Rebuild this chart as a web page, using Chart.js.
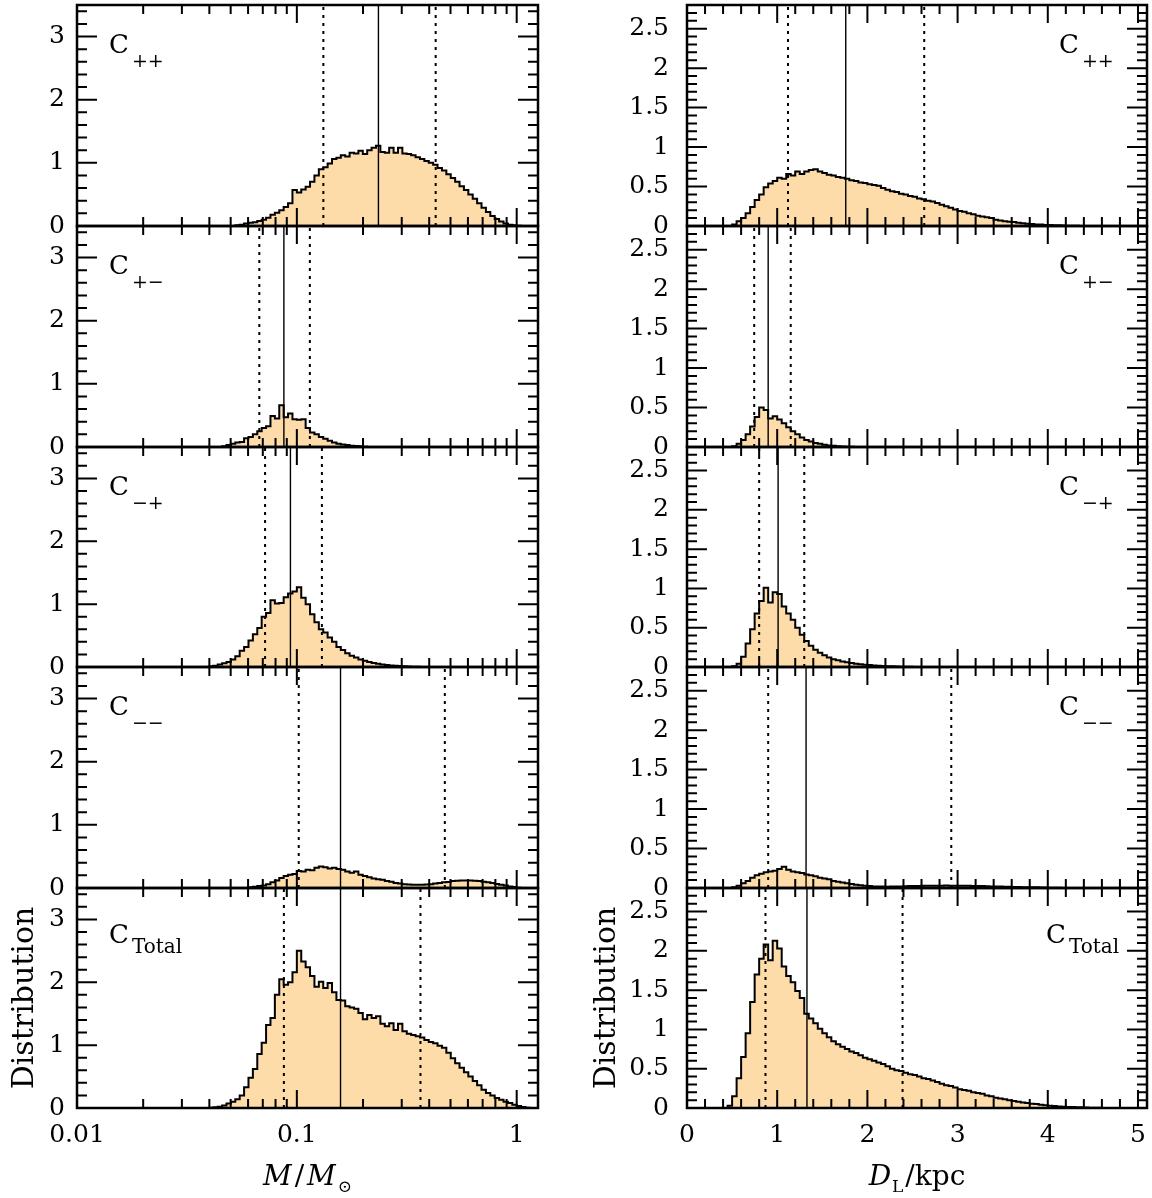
<!DOCTYPE html>
<html>
<head>
<meta charset="utf-8">
<script src="https://cdn.jsdelivr.net/npm/chart.js@4.4.1/dist/chart.umd.min.js"></script>
<style>
  html, body { margin: 0; padding: 0; background: #fff; }
  #wrap { position: relative; width: 1152px; height: 1198px; overflow: hidden; background: #fff; }
  #wrap canvas { position: absolute; top: 0; }
</style>
</head>
<body>
<div id="wrap"></div>
<script>
// histogram bins: left column in log10(M/Msun), right column in D_L (kpc)
const massLogStart = -1.42;
const massLogStep = 0.02;
const distStart = 0.40;
const distStep = 0.05;

// mass distributions, one value per bin
const massCpp = [
  0, 0, 0, 0, 0, 0, 0, 0.01, 0.02, 0.04,
  0.05, 0.06, 0.08, 0.10, 0.13, 0.18, 0.21, 0.25, 0.30, 0.36,
  0.57, 0.53, 0.58, 0.62, 0.70, 0.80, 0.90, 0.93, 0.99, 1.06,
  1.08, 1.12, 1.10, 1.16, 1.15, 1.19, 1.14, 1.20, 1.24, 1.27,
  1.17, 1.16, 1.24, 1.16, 1.24, 1.15, 1.14, 1.12, 1.09, 1.06,
  1.03, 1.00, 0.97, 0.92, 0.88, 0.82, 0.76, 0.70, 0.63, 0.57,
  0.50, 0.43, 0.36, 0.29, 0.22, 0.16, 0.11, 0.07, 0.04, 0.02,
  0.01, 0.005, 0, 0
];
const massCpm = [
  0, 0, 0, 0, 0.01, 0.03, 0.05, 0.07, 0.08, 0.14,
  0.16, 0.20, 0.25, 0.30, 0.33, 0.49, 0.45, 0.66, 0.47, 0.53,
  0.44, 0.43, 0.44, 0.30, 0.23, 0.20, 0.16, 0.13, 0.10, 0.07,
  0.05, 0.04, 0.03, 0.02, 0.015, 0.01, 0.005, 0, 0, 0,
  0, 0, 0, 0, 0, 0, 0, 0, 0, 0,
  0, 0, 0, 0, 0, 0, 0, 0, 0, 0,
  0, 0, 0, 0, 0, 0, 0, 0, 0, 0,
  0, 0, 0, 0
];
const massCmp = [
  0, 0.01, 0.02, 0.04, 0.06, 0.08, 0.12, 0.17, 0.26, 0.32,
  0.42, 0.52, 0.62, 0.80, 0.86, 1.06, 1.01, 1.02, 1.11, 1.17,
  1.20, 1.27, 1.10, 1.00, 0.84, 0.71, 0.60, 0.55, 0.47, 0.40,
  0.32, 0.27, 0.22, 0.18, 0.15, 0.12, 0.10, 0.08, 0.065, 0.05,
  0.04, 0.03, 0.025, 0.02, 0.015, 0.01, 0.007, 0.005, 0.003, 0,
  0, 0, 0, 0, 0, 0, 0, 0, 0, 0,
  0, 0, 0, 0, 0, 0, 0, 0, 0, 0,
  0, 0, 0, 0
];
const massCmm = [
  0, 0, 0, 0, 0, 0, 0, 0, 0, 0,
  0.01, 0.02, 0.03, 0.04, 0.06, 0.09, 0.12, 0.16, 0.19, 0.21,
  0.22, 0.27, 0.26, 0.29, 0.28, 0.32, 0.34, 0.33, 0.31, 0.32,
  0.30, 0.29, 0.26, 0.24, 0.26, 0.21, 0.19, 0.17, 0.15, 0.14,
  0.13, 0.11, 0.10, 0.08, 0.07, 0.06, 0.055, 0.05, 0.05, 0.05,
  0.055, 0.06, 0.07, 0.08, 0.09, 0.095, 0.11, 0.115, 0.12, 0.12,
  0.12, 0.115, 0.11, 0.10, 0.09, 0.08, 0.065, 0.05, 0.04, 0.025,
  0.015, 0.005, 0, 0
];
const massTotal = [
  0, 0.005, 0.01, 0.02, 0.04, 0.07, 0.10, 0.14, 0.20, 0.33,
  0.48, 0.62, 0.86, 1.04, 1.32, 1.43, 1.80, 2.05, 1.96, 2.00,
  2.16, 2.50, 2.33, 2.24, 2.10, 1.93, 2.01, 1.91, 1.99, 1.84,
  1.72, 1.71, 1.62, 1.60, 1.58, 1.51, 1.41, 1.48, 1.43, 1.46,
  1.34, 1.30, 1.35, 1.24, 1.34, 1.22, 1.18, 1.16, 1.14, 1.12,
  1.08, 1.05, 1.03, 0.99, 0.96, 0.88, 0.79, 0.71, 0.64, 0.57,
  0.50, 0.43, 0.36, 0.29, 0.24, 0.20, 0.16, 0.13, 0.10, 0.08,
  0.05, 0.03, 0.015, 0.005
];

// distance distributions, one value per bin
const distCpp = [
  0, 0, 0.02, 0.06, 0.10, 0.16, 0.24, 0.33, 0.40, 0.49,
  0.54, 0.57, 0.61, 0.60, 0.66, 0.64, 0.69, 0.66, 0.69, 0.71,
  0.72, 0.69, 0.67, 0.65, 0.64, 0.62, 0.61, 0.60, 0.58, 0.57,
  0.55, 0.545, 0.53, 0.52, 0.51, 0.48, 0.46, 0.44, 0.43, 0.41,
  0.40, 0.38, 0.37, 0.35, 0.34, 0.32, 0.31, 0.29, 0.27, 0.25,
  0.23, 0.21, 0.19, 0.18, 0.16, 0.15, 0.13, 0.12, 0.11, 0.10,
  0.08, 0.07, 0.06, 0.055, 0.05, 0.04, 0.035, 0.03, 0.025, 0.02,
  0.018, 0.014, 0.012, 0.01, 0.008, 0.006, 0.004, 0.003, 0.002, 0,
  0, 0, 0, 0
];
const distCpm = [
  0, 0, 0.01, 0.04, 0.09, 0.16, 0.26, 0.38, 0.50, 0.47,
  0.36, 0.39, 0.35, 0.30, 0.25, 0.20, 0.16, 0.12, 0.09, 0.07,
  0.05, 0.04, 0.03, 0.02, 0.015, 0.01, 0.007, 0.004, 0.002, 0,
  0, 0, 0, 0, 0, 0, 0, 0, 0, 0,
  0, 0, 0, 0, 0, 0, 0, 0, 0, 0,
  0, 0, 0, 0, 0, 0, 0, 0, 0, 0,
  0, 0, 0, 0, 0, 0, 0, 0, 0, 0,
  0, 0, 0, 0, 0, 0, 0, 0, 0, 0,
  0, 0, 0, 0
];
const distCmp = [
  0, 0, 0.01, 0.04, 0.13, 0.30, 0.48, 0.68, 0.84, 1.01,
  0.82, 0.95, 0.93, 0.77, 0.68, 0.60, 0.50, 0.41, 0.33, 0.27,
  0.22, 0.18, 0.15, 0.12, 0.10, 0.085, 0.07, 0.06, 0.05, 0.04,
  0.035, 0.03, 0.025, 0.02, 0.017, 0.013, 0.01, 0.008, 0.006, 0.004,
  0.003, 0.002, 0, 0, 0, 0, 0, 0, 0, 0,
  0, 0, 0, 0, 0, 0, 0, 0, 0, 0,
  0, 0, 0, 0, 0, 0, 0, 0, 0, 0,
  0, 0, 0, 0, 0, 0, 0, 0, 0, 0,
  0, 0, 0, 0
];
const distCmm = [
  0, 0, 0.01, 0.03, 0.06, 0.09, 0.13, 0.16, 0.18, 0.20,
  0.21, 0.22, 0.24, 0.27, 0.23, 0.21, 0.20, 0.19, 0.17, 0.16,
  0.15, 0.13, 0.12, 0.11, 0.09, 0.08, 0.07, 0.06, 0.05, 0.04,
  0.034, 0.03, 0.025, 0.02, 0.02, 0.018, 0.017, 0.018, 0.02, 0.02,
  0.022, 0.024, 0.025, 0.026, 0.028, 0.03, 0.03, 0.03, 0.03, 0.031,
  0.03, 0.03, 0.03, 0.029, 0.028, 0.026, 0.025, 0.024, 0.022, 0.02,
  0.02, 0.018, 0.017, 0.015, 0.014, 0.012, 0.011, 0.01, 0.009, 0.008,
  0.006, 0.005, 0.004, 0.003, 0.002, 0.001, 0, 0, 0, 0,
  0, 0, 0, 0
];
const distTotal = [
  0, 0.03, 0.15, 0.38, 0.65, 0.95, 1.35, 1.70, 1.90, 2.08,
  1.88, 2.13, 2.03, 1.80, 1.68, 1.60, 1.49, 1.40, 1.20, 1.14,
  1.08, 1.01, 0.95, 0.90, 0.85, 0.81, 0.78, 0.75, 0.72, 0.70,
  0.67, 0.64, 0.62, 0.60, 0.58, 0.56, 0.53, 0.50, 0.48, 0.47,
  0.45, 0.43, 0.42, 0.40, 0.38, 0.37, 0.35, 0.33, 0.31, 0.29,
  0.28, 0.26, 0.24, 0.23, 0.22, 0.20, 0.19, 0.18, 0.16, 0.15,
  0.13, 0.12, 0.11, 0.10, 0.09, 0.08, 0.07, 0.065, 0.055, 0.05,
  0.04, 0.035, 0.03, 0.025, 0.02, 0.017, 0.014, 0.012, 0.01, 0.008,
  0.006, 0.004, 0.003, 0.002
];

// median (solid) and 1-sigma limits (dotted), per panel top to bottom
const massMedian = [0.235, 0.0873, 0.0935, 0.158, 0.158];
const massLow = [0.132, 0.0675, 0.0717, 0.102, 0.0873];
const massHigh = [0.428, 0.1146, 0.130, 0.471, 0.365];
const distMedian = [1.76, 0.90, 1.01, 1.32, 1.33];
const distLow = [1.12, 0.745, 0.80, 0.90, 0.87];
const distHigh = [2.63, 1.15, 1.30, 2.93, 2.39];

const panelSubs = ['++', '+\u2212', '\u2212+', '\u2212\u2212', 'Total'];

const massTicks = [0.01, 0.1, 1];
const massTickLabels = ['0.01', '0.1', '1'];
const distTicks = [0, 1, 2, 3, 4, 5];
const distTickLabels = ['0', '1', '2', '3', '4', '5'];
const massYTicks = [0, 1, 2, 3];
const massYLabels = ['0', '1', '2', '3'];
const distYTicks = [0, 0.5, 1, 1.5, 2, 2.5];
const distYLabels = ['0', '0.5', '1', '1.5', '2', '2.5'];

const massSeries = [massCpp, massCpm, massCmp, massCmm, massTotal];
const distSeries = [distCpp, distCpm, distCmp, distCmm, distTotal];

// page layout
const panelTop = [5, 226, 447, 667, 888];
const panelBottom = [226, 447, 667, 888, 1108];
const xAxisBox = 50;
const fillColor = '#FDDCA9';
const serif = '"DejaVu Serif", "Liberation Serif", serif';

// minor tick positions
const massMinor = [];
[0.01, 0.1, 1].forEach(d => { for (let m = 2; m <= 9; m++) massMinor.push(d * m); });
const distMinor = [];
for (let i = 1; i <= 25; i++) if (i % 5) distMinor.push(i * 0.2);
const massYMinor = [];
for (let i = 1; i <= 17; i++) if (i % 5) massYMinor.push(i * 0.2);
const distYMinor = [];
for (let i = 1; i <= 27; i++) if (i % 5) distYMinor.push(i * 0.1);

// frame + inward ticks on all four sides
const frameTicks = {
  id: 'frameTicks',
  afterDatasetsDraw(chart, args, o) {
    const { ctx, chartArea: a } = chart;
    const xs = chart.scales.x, ys = chart.scales.y;
    ctx.save();
    ctx.strokeStyle = '#000';
    ctx.lineWidth = 2;
    ctx.beginPath();
    const xt = (vals, len) => vals.forEach(v => {
      if (v < xs.min || v > xs.max) return;
      const p = xs.getPixelForValue(v);
      ctx.moveTo(p, a.bottom); ctx.lineTo(p, a.bottom - len);
      ctx.moveTo(p, a.top); ctx.lineTo(p, a.top + len);
    });
    const yt = (vals, len) => vals.forEach(v => {
      if (v < ys.min || v > ys.max) return;
      const p = ys.getPixelForValue(v);
      ctx.moveTo(a.left, p); ctx.lineTo(a.left + len, p);
      ctx.moveTo(a.right, p); ctx.lineTo(a.right - len, p);
    });
    xt(o.xMajor, 18); xt(o.xMinor, 9);
    yt(o.yMajor, 20); yt(o.yMinor, 10);
    ctx.stroke();
    ctx.lineWidth = 2.5;
    ctx.strokeRect(a.left, a.top, a.right - a.left, a.bottom - a.top);
    ctx.restore();
  }
};

function drawParts(ctx, parts, cx, y) {
  let w = 0;
  parts.forEach(p => { ctx.font = p.font; w += ctx.measureText(p.t).width + (p.gap || 0); });
  let x = cx - w / 2;
  parts.forEach(p => {
    ctx.font = p.font;
    ctx.fillText(p.t, x, y + (p.dy || 0));
    x += ctx.measureText(p.t).width + (p.gap || 0);
  });
}

// panel label C_xx, axis titles
const panelText = {
  id: 'panelText',
  afterDraw(chart, args, o) {
    const { ctx, chartArea: a } = chart;
    ctx.save();
    ctx.fillStyle = '#000';
    ctx.textAlign = 'left';
    ctx.textBaseline = 'alphabetic';
    const isTotal = o.sub === 'Total';
    ctx.font = '26px ' + serif;
    ctx.fillText('C', o.labelX, a.top + (isTotal ? 55 : 48));
    const cw = ctx.measureText('C').width;
    ctx.font = (isTotal ? '20px ' : '19px ') + serif;
    ctx.fillText(o.sub, o.labelX + cw + 3, a.top + (isTotal ? 65 : 62));
    if (o.bottom) {
      const cx = (a.left + a.right) / 2;
      drawParts(ctx, o.title, cx, 1185);
      ctx.save();
      ctx.translate(o.distX, (a.top + a.bottom) / 2);
      ctx.rotate(-Math.PI / 2);
      ctx.textAlign = 'center';
      ctx.font = '30px ' + serif;
      ctx.fillText('Distribution', 0, 0);
      ctx.restore();
    }
    ctx.restore();
  }
};

const wrap = document.getElementById('wrap');

function makePanel(col, k) {
  const isMass = col === 0;
  const canvas = document.createElement('canvas');
  canvas.width = 576;
  canvas.height = 1198;
  canvas.style.left = (col * 576) + 'px';
  wrap.appendChild(canvas);

  const values = isMass ? massSeries[k] : distSeries[k];
  const edge = i => isMass ? Math.pow(10, massLogStart + i * massLogStep) : distStart + i * distStep;
  const hist = values.map((v, i) => ({ x: edge(i), y: v }));
  hist.push({ x: edge(values.length), y: 0 });

  const yMax = isMass ? 3.5 : 2.8;
  const vline = v => [{ x: v, y: 0 }, { x: v, y: yMax }];
  const med = isMass ? massMedian : distMedian;
  const lo = isMass ? massLow : distLow;
  const hi = isMass ? massHigh : distHigh;

  const xTicks = isMass ? massTicks : distTicks;
  const xLabels = isMass ? massTickLabels : distTickLabels;
  const yTicks = isMass ? massYTicks : distYTicks;
  const yLabels = isMass ? massYLabels : distYLabels;

  const title = isMass
    ? [
        { t: 'M', font: 'italic 28px ' + serif, gap: 3 },
        { t: '/', font: '28px ' + serif, gap: 3 },
        { t: 'M', font: 'italic 28px ' + serif, gap: 2 },
        { t: '\u2299', font: '17px ' + serif, dy: 7 }
      ]
    : [
        { t: 'D', font: 'italic 28px ' + serif, gap: 1 },
        { t: 'L', font: '17px ' + serif, dy: 7, gap: 2 },
        { t: '/kpc', font: '28px ' + serif }
      ];

  const dotted = { borderColor: '#000', borderWidth: 2, borderDash: [3, 5], pointRadius: 0, fill: false, order: 1 };

  new Chart(canvas, {
    type: 'line',
    data: {
      datasets: [
        { data: hist, stepped: 'before', borderColor: '#000', borderWidth: 2, backgroundColor: fillColor,
          fill: 'origin', pointRadius: 0, order: 2 },
        { data: vline(med[k]), borderColor: '#000', borderWidth: 1.4, pointRadius: 0, fill: false, order: 1 },
        Object.assign({ data: vline(lo[k]) }, dotted),
        Object.assign({ data: vline(hi[k]) }, dotted)
      ]
    },
    options: {
      responsive: false,
      animation: false,
      devicePixelRatio: 1,
      events: [],
      layout: { padding: { left: 0, right: isMass ? 38 : 5, top: panelTop[k], bottom: 1198 - panelBottom[k] - xAxisBox } },
      scales: {
        x: {
          type: isMass ? 'logarithmic' : 'linear',
          min: isMass ? 0.01 : 0,
          max: isMass ? 1.25 : 5.1,
          grid: { display: false, drawTicks: false },
          border: { display: false },
          ticks: {
            display: k === 4, padding: 12, color: '#000', autoSkip: false, maxRotation: 0,
            font: { family: serif, size: 25 },
            callback: (v, i) => xLabels[i]
          },
          afterBuildTicks: s => { s.ticks = xTicks.map(v => ({ value: v })); },
          afterFit: s => { s.height = xAxisBox; s.paddingLeft = 0; s.paddingRight = 0; }
        },
        y: {
          min: 0,
          max: yMax,
          grid: { display: false, drawTicks: false },
          border: { display: false },
          ticks: {
            padding: isMass ? 12 : 18, color: '#000',
            font: { family: serif, size: 25 },
            callback: (v, i) => yLabels[i]
          },
          afterBuildTicks: s => { s.ticks = yTicks.map(v => ({ value: v })); },
          afterFit: s => { s.width = isMass ? 77 : 111; s.paddingTop = 0; s.paddingBottom = 0; }
        }
      },
      plugins: {
        legend: { display: false },
        tooltip: { enabled: false },
        frameTicks: {
          xMajor: xTicks, xMinor: isMass ? massMinor : distMinor,
          yMajor: yTicks, yMinor: isMass ? massYMinor : distYMinor
        },
        panelText: {
          sub: panelSubs[k],
          labelX: isMass ? 109 : (k === 4 ? 470 : 483),
          bottom: k === 4,
          title: title,
          distX: isMass ? 33 : 39
        }
      }
    },
    plugins: [frameTicks, panelText]
  });
}

for (let col = 0; col < 2; col++) {
  for (let k = 0; k < 5; k++) makePanel(col, k);
}
</script>
</body>
</html>
